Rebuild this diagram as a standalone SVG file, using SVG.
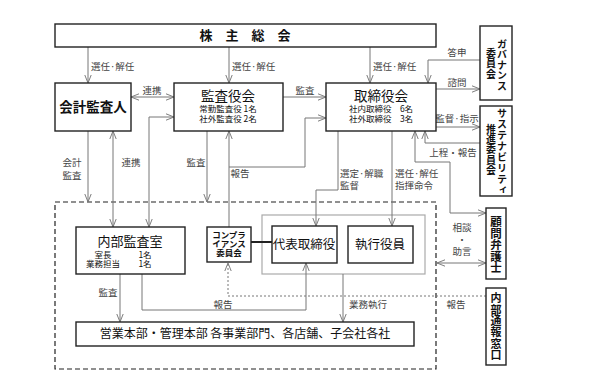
<svg xmlns="http://www.w3.org/2000/svg" width="597" height="382" viewBox="0 0 597 382">
<style>
.box{fill:#fff;stroke:#222;stroke-width:1.4}
.t{font-family:"Noto Sans CJK JP","Noto Sans",sans-serif;fill:#111;text-anchor:middle}
.b{font-weight:bold}
.v{font-family:"Noto Sans CJK JP","Noto Sans",sans-serif;fill:#111;font-weight:bold;writing-mode:vertical-rl;text-anchor:start}
.lbl{font-family:"Noto Sans CJK JP","Noto Sans",sans-serif;fill:#444;font-size:9.5px}
.c{fill:none;stroke:#777;stroke-width:1}
.ae{marker-end:url(#ah)}
.as{marker-start:url(#ah)}
</style>
<defs>
<marker id="ah" viewBox="0 0 10 10" refX="10" refY="5" markerWidth="8" markerHeight="8" markerUnits="userSpaceOnUse" orient="auto-start-reverse">
<path d="M0,1 L10,5 L0,9" fill="none" stroke="#777" stroke-width="1.2"/>
</marker>
</defs>
<rect width="597" height="382" fill="#fff"/>

<g id="connectors">
<rect x="55" y="202" width="381" height="167" fill="none" stroke="#222" stroke-width="1.2" stroke-dasharray="5,3"/>
<rect x="262" y="215" width="163" height="59" fill="none" stroke="#aaa" stroke-width="1.2"/>
<path class="c ae" d="M88,47 V83"/>
<path class="c ae" d="M229,47 V83"/>
<path class="c ae" d="M370,47 V83"/>
<path class="c ae as" d="M131,97 H174"/>
<path class="c ae" d="M283,97 H326"/>
<path class="c ae" d="M480,60 H428 V83"/>
<path class="c ae" d="M436,89 H480"/>
<path class="c ae" d="M436,127 H480"/>
<path class="c ae" d="M480,143 H425 V131"/>
<path class="c ae as" d="M415,131 V162 H450 V213 H486"/>
<path class="c ae as" d="M437,263 H486"/>
<path class="c ae" d="M338,131 V190 H316 V226"/>
<path class="c ae" d="M392,131 V226"/>
<path class="c ae" d="M88,131 V202"/>
<path class="c ae as" d="M113,131 V227"/>
<path class="c ae as" d="M149,227 V117 H174"/>
<path class="c ae" d="M207,131 V202"/>
<path class="c ae" d="M229,227 V131"/>
<path class="c ae" d="M229,167 H305 V118 H326"/>
<path d="M251,242 H272" stroke="#222" stroke-width="2"/>
<path class="c ae" d="M120,274 V322"/>
<path class="c ae" d="M142,274 V310 H306 V263"/>
<path class="c ae" d="M343,274 V322"/>
<path class="c ae" d="M486,296 H228 V263" stroke-dasharray="2,2"/>

<text class="lbl" x="91" y="70">選任·解任</text>
<text class="lbl" x="232" y="70">選任·解任</text>
<text class="lbl" x="373" y="70">選任·解任</text>
<text class="lbl" x="152" y="94" text-anchor="middle">連携</text>
<text class="lbl" x="305" y="94" text-anchor="middle">監査</text>
<text class="lbl" x="457" y="56" text-anchor="middle">答申</text>
<text class="lbl" x="457" y="86" text-anchor="middle">諮問</text>
<text class="lbl" x="457" y="122" text-anchor="middle">監督·指示</text>
<text class="lbl" x="453" y="156" text-anchor="middle">上程・報告</text>
<text class="lbl" text-anchor="middle"><tspan x="462" y="231">相談</tspan><tspan x="462" y="243">・</tspan><tspan x="462" y="255">助言</tspan></text>
<text class="lbl"><tspan x="340" y="177">選定·解職</tspan><tspan x="340" y="189">監督</tspan></text>
<text class="lbl"><tspan x="395" y="177">選任·解任</tspan><tspan x="395" y="189">指揮命令</tspan></text>
<text class="lbl" text-anchor="middle"><tspan x="72" y="166">会計</tspan><tspan x="72" y="179">監査</tspan></text>
<text class="lbl" x="131" y="166" text-anchor="middle">連携</text>
<text class="lbl" x="196" y="166" text-anchor="middle">監査</text>
<text class="lbl" x="240" y="177" text-anchor="middle">報告</text>
<text class="lbl" x="108" y="296" text-anchor="middle">監査</text>
<text class="lbl" x="223" y="308" text-anchor="middle">報告</text>
<text class="lbl" x="368" y="308" text-anchor="middle">業務執行</text>
<text class="lbl" x="456" y="308" text-anchor="middle">報告</text>
</g>

<g id="kabunushi">
<rect class="box" x="55" y="24" width="381" height="23"/>
<text class="t b" x="245" y="40" font-size="13">株　主　総　会</text>
</g>
<g id="kaikei">
<rect class="box" x="55" y="83" width="76" height="48"/>
<text class="t b" x="93" y="112" font-size="13.5">会計監査人</text>
</g>
<g id="kansayakukai">
<rect class="box" x="174" y="83" width="109" height="48"/>
<text class="t" x="228" y="101" font-size="13.5">監査役会</text>
<text class="t" font-size="8.5"><tspan x="228" y="112">常勤監査役 1名</tspan><tspan x="228" y="121.5">社外監査役 2名</tspan></text>
</g>
<g id="torishimariyakukai">
<rect class="box" x="326" y="83" width="110" height="48"/>
<text class="t" x="381" y="101" font-size="13.5">取締役会</text>
<text class="t" font-size="8.5"><tspan x="381" y="112">社内取締役　6名</tspan><tspan x="381" y="121.5">社外取締役　3名</tspan></text>
</g>
<g id="governance">
<rect class="box" x="480" y="26" width="32" height="74"/>
<text class="v" x="502" y="39" font-size="10" letter-spacing="0.5">ガバナンス</text>
<text class="v" x="491" y="48" font-size="10" letter-spacing="0.5">委員会</text>
</g>
<g id="sustainability">
<rect class="box" x="480" y="106" width="32" height="90"/>
<text class="v" x="502" y="108" font-size="10" letter-spacing="1">サステナビリティ</text>
<text class="v" x="491" y="124" font-size="10" letter-spacing="0.3">推進委員会</text>
</g>
<g id="komon">
<rect class="box" x="486" y="208" width="20" height="71"/>
<text class="v" x="496" y="216" font-size="11.5">顧問弁護士</text>
</g>
<g id="naibutsuho">
<rect class="box" x="486" y="288" width="20" height="77"/>
<text class="v" x="496" y="292.5" font-size="11" letter-spacing="0.4">内部通報窓口</text>
</g>
<g id="naibukansa">
<rect class="box" x="76" y="227" width="109" height="47"/>
<text class="t" x="130" y="246" font-size="13">内部監査室</text>
<text class="t" font-size="8.5" text-anchor="start"><tspan x="103" y="258">室長</tspan><tspan x="145" y="258">1名</tspan><tspan x="103" y="267">業務担当</tspan><tspan x="145" y="267">1名</tspan></text>
</g>
<g id="compliance">
<rect class="box" x="207" y="227" width="44" height="35"/>
<text class="t b" font-size="8.5"><tspan x="229" y="238">コンプラ</tspan><tspan x="229" y="247">イアンス</tspan><tspan x="229" y="256">委員会</tspan></text>
</g>
<g id="daihyo">
<rect class="box" x="272" y="226" width="65" height="37"/>
<text class="t" x="304" y="249" font-size="12.5">代表取締役</text>
</g>
<g id="shikko">
<rect class="box" x="348" y="226" width="65" height="37"/>
<text class="t" x="380" y="249" font-size="12.5">執行役員</text>
</g>
<g id="eigyo">
<rect class="box" x="76" y="322" width="338" height="24"/>
<text class="t" x="245" y="338" font-size="12">営業本部・管理本部 各事業部門、各店舗、子会社各社</text>
</g>
</svg>
